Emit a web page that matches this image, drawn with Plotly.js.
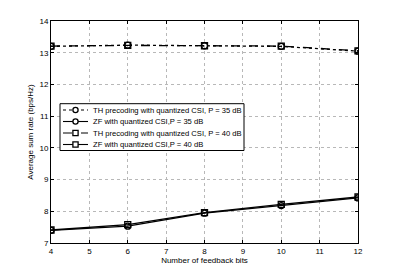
<!DOCTYPE html>
<html>
<head>
<meta charset="utf-8">
<script src="https://cdn.plot.ly/plotly-3.0.1.min.js"></script>
<style>
  html, body { margin: 0; padding: 0; background: #fff; }
  #chart { width: 395px; height: 273px; }
</style>
</head>
<body>
<div id="chart"></div>
<script>
// Feedback bits on the x axis
const feedbackBits = [4, 6, 8, 10, 12];

// Average sum rate (bps/Hz)
const thP35 = [13.20, 13.24, 13.22, 13.20, 13.05];
const zfP35 = [7.40, 7.53, 7.94, 8.18, 8.42];
const thP40 = [13.21, 13.23, 13.22, 13.21, 13.06];
const zfP40 = [7.41, 7.58, 7.96, 8.22, 8.45];

const seriesNames = [
  'TH precoding with quantized CSI, P = 35 dB',
  'ZF with quantized CSI,P = 35 dB',
  'TH precoding with quantized CSI, P = 40 dB',
  'ZF with quantized CSI,P = 40 dB'
];

const xTicks = [4, 5, 6, 7, 8, 9, 10, 11, 12];
const yTicks = [7, 8, 9, 10, 11, 12, 13, 14];

const styles = [
  { dash: 'dot', symbol: 'circle-open', shape: 'circle' },
  { dash: 'solid', symbol: 'circle-open', shape: 'circle' },
  { dash: 'dash', symbol: 'square-open', shape: 'rect' },
  { dash: 'solid', symbol: 'square-open', shape: 'rect' }
];

const traces = [thP35, zfP35, thP40, zfP40].map((ys, i) => ({
  x: feedbackBits,
  y: ys,
  type: 'scatter',
  mode: 'lines+markers',
  name: seriesNames[i],
  line: { color: '#000', width: 1.3, dash: styles[i].dash },
  marker: { symbol: styles[i].symbol, size: 6, color: '#000', line: { width: 1.3, color: '#000' } }
}));

// Plot area in pixels (matches margins below)
const M = { t: 21, r: 37, b: 30, l: 51 };
const W = 395, H = 273;
const pw = W - M.l - M.r, ph = H - M.t - M.b;
const px = x => (x - M.l) / pw;
const py = y => (H - M.b - y) / ph;

// Matlab-style compact legend drawn with shapes + annotations
const legendShapes = [{
  type: 'rect', xref: 'paper', yref: 'paper',
  x0: px(60), x1: px(244), y0: py(150.5), y1: py(103.7),
  line: { color: '#000', width: 1 }, fillcolor: '#fff', layer: 'above'
}];
const legendNotes = [];
seriesNames.forEach((name, i) => {
  const rowY = 110 + i * 11.5;
  legendShapes.push({
    type: 'line', xref: 'paper', yref: 'paper',
    x0: px(63), x1: px(88), y0: py(rowY), y1: py(rowY),
    line: { color: '#000', width: 1.1, dash: styles[i].dash }, layer: 'above'
  });
  legendShapes.push({
    type: styles[i].shape, xref: 'paper', yref: 'paper',
    xsizemode: 'pixel', ysizemode: 'pixel',
    xanchor: px(75.5), yanchor: py(rowY),
    x0: -2.6, x1: 2.6, y0: -2.6, y1: 2.6,
    line: { color: '#000', width: 1.3 }, fillcolor: '#fff', layer: 'above'
  });
  legendNotes.push({
    xref: 'paper', yref: 'paper', x: px(91), y: py(rowY),
    xanchor: 'left', yanchor: 'middle', showarrow: false,
    text: name, font: { size: 7.6, color: '#000' }
  });
});

const axisCommon = {
  showline: true,
  mirror: 'ticks',
  linecolor: '#000',
  linewidth: 1,
  ticks: 'inside',
  ticklen: 3,
  tickcolor: '#000',
  showgrid: true,
  gridcolor: '#b8b8b8',
  griddash: 'dot',
  gridwidth: 1,
  zeroline: false,
  tickfont: { size: 8, color: '#000' }
};

const layout = {
  width: W,
  height: H,
  paper_bgcolor: '#fff',
  plot_bgcolor: '#fff',
  font: { family: 'Liberation Sans, Arial, sans-serif', size: 8, color: '#000' },
  margin: M,
  showlegend: false,
  xaxis: Object.assign({}, axisCommon, {
    range: [4, 12],
    tickvals: xTicks,
    title: { text: 'Number of feedback bits', font: { size: 8 }, standoff: 2 }
  }),
  yaxis: Object.assign({}, axisCommon, {
    range: [7, 14],
    tickvals: yTicks,
    title: { text: 'Average sum rate (bps/Hz)', font: { size: 8 }, standoff: 4 }
  }),
  shapes: legendShapes,
  annotations: legendNotes
};

Plotly.newPlot('chart', traces, layout, { displayModeBar: false, staticPlot: true });
</script>
</body>
</html>
